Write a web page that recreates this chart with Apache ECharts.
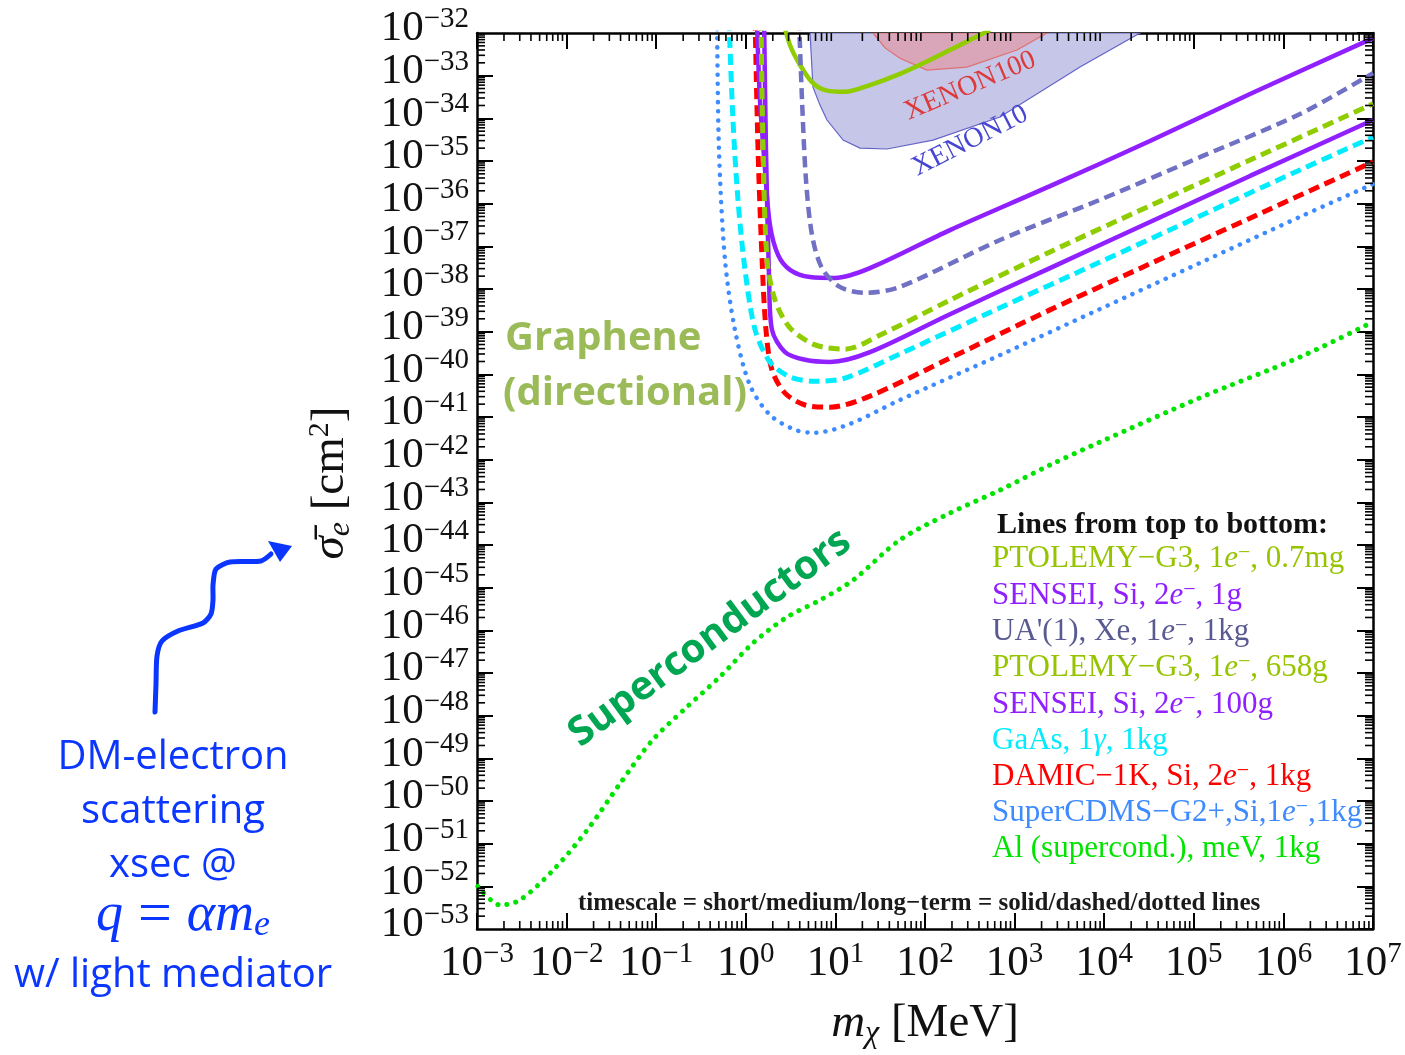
<!DOCTYPE html>
<html><head><meta charset="utf-8">
<script src="https://cdn.jsdelivr.net/npm/echarts@6/dist/echarts.min.js"></script>
<style>html,body{margin:0;padding:0;background:#fff}#c{width:1405px;height:1055px}</style>
</head><body><div id="c"></div>
<script>
// ---------- data (mass in MeV, cross-section in cm^2) ----------
const xTickLabels = ['\u22123','\u22122','\u22121','0','1','2','3','4','5','6','7'];
const yTickLabels = ['\u221253','\u221252','\u221251','\u221250','\u221249','\u221248','\u221247','\u221246','\u221245','\u221244','\u221243','\u221242','\u221241','\u221240','\u221239','\u221238','\u221237','\u221236','\u221235','\u221234','\u221233','\u221232'];
const minorMultipliers = [2, 3, 4, 5, 6, 7, 8, 9];

const ptolemyMgMass  = [2.60, 3.11, 4.03, 5.48, 7.66, 12.8, 24.3, 52.6, 114, 246, 531];
const ptolemyMgSigma = [2.0e-32, 5.25e-33, 1.78e-33, 7.08e-34, 4.57e-34, 4.17e-34, 6.03e-34, 1.10e-33, 2.34e-33, 5.25e-33, 1.17e-32];

const sensei1gMass  = [1.33, 1.44, 1.64, 1.86, 2.29, 3.11, 5.21, 9.91, 24.3, 190, 2483, 3.24e4, 4.24e5, 1e7];
const sensei1gSigma = [2.0e-32, 2.69e-34, 6.17e-36, 3.16e-37, 6.31e-38, 2.82e-38, 1.91e-38, 1.82e-38, 3.09e-38, 2.40e-37, 2.57e-36, 2.95e-35, 3.72e-34, 7.59e-33];

const uaXeMass  = [3.93, 4.24, 4.70, 5.48, 7.08, 11.2, 21.4, 52.6, 687, 8974, 1.17e5, 1.53e6, 1e7];
const uaXeSigma = [2.0e-32, 2.69e-34, 3.55e-36, 1.86e-37, 3.09e-38, 1.12e-38, 8.13e-39, 1.12e-38, 1.41e-37, 1.23e-36, 1.23e-35, 1.26e-34, 1.15e-33];

const ptolemyKgMass  = [1.48, 1.56, 1.73, 2.12, 3.11, 5.92, 12.8, 31.5, 190, 2483, 3.24e4, 4.24e5, 1e7];
const ptolemyKgSigma = [2.0e-32, 1.82e-35, 4.79e-38, 5.50e-39, 1.23e-39, 4.90e-40, 3.89e-40, 8.32e-40, 5.50e-39, 7.41e-38, 8.91e-37, 1.05e-35, 2.19e-34];

const sensei100gMass  = [1.60, 1.68, 1.82, 1.96, 2.74, 4.58, 8.71, 24.3, 190, 2483, 3.24e4, 4.24e5, 1e7];
const sensei100gSigma = [2.0e-32, 1.82e-35, 1.62e-38, 1.10e-39, 3.31e-40, 2.19e-40, 1.95e-40, 3.31e-40, 2.57e-39, 3.09e-38, 3.72e-37, 4.47e-36, 9.12e-35];

const gaasMass  = [0.650, 0.719, 0.818, 0.98, 1.27, 1.86, 3.11, 5.92, 12.8, 52.6, 687, 8974, 1.17e5, 1.53e6, 1e7];
const gaasSigma = [2.0e-32, 9.12e-35, 1.23e-36, 2.82e-38, 1.10e-39, 1.95e-40, 8.71e-41, 6.92e-41, 8.13e-41, 3.02e-40, 3.63e-39, 4.27e-38, 5.13e-37, 6.17e-36, 3.63e-35];

const damicMass  = [1.27, 1.37, 1.52, 1.68, 1.96, 2.74, 4.58, 8.71, 24.3, 190, 2483, 3.24e4, 4.24e5, 1e7];
const damicSigma = [2.0e-32, 1.82e-35, 4.79e-38, 1.10e-39, 1.26e-40, 3.63e-41, 1.91e-41, 1.70e-41, 3.09e-41, 2.40e-40, 3.24e-39, 3.89e-38, 4.57e-37, 9.55e-36];

const cdmsMass  = [0.478, 0.502, 0.586, 0.757, 1.11, 1.86, 3.54, 5.92, 14.6, 52.6, 687, 8974, 1.17e5, 1.53e6, 1e7];
const cdmsSigma = [2.0e-32, 1.82e-35, 4.79e-38, 1.10e-39, 5.62e-41, 1.12e-41, 5.01e-42, 4.27e-42, 6.92e-42, 2.51e-41, 2.82e-40, 3.39e-39, 4.07e-38, 4.90e-37, 2.88e-36];

const alMass  = [1.02e-3, 1.82e-3, 3.02e-3, 7.08e-3, 1.70e-2, 3.98e-2, 9.12e-2, 0.219, 0.513, 1.20, 2.88, 6.76, 15.8, 52.5, 191, 692, 2512, 8913, 1.17e5, 1.55e6, 1e7];
const alSigma = [1.0e-52, 3.63e-53, 4.79e-53, 2.40e-52, 2.09e-51, 2.63e-50, 2.69e-49, 1.58e-48, 8.13e-48, 5.01e-47, 2.04e-46, 5.13e-46, 1.51e-45, 1.32e-44, 5.62e-44, 1.95e-43, 7.59e-43, 2.57e-42, 2.82e-41, 2.57e-40, 1.70e-39];

const xenon10Mass  = [5.21, 5.62, 6.73, 8.05, 12.2, 18.8, 37.7, 123, 687, 5370, 2.51e4];
const xenon10Sigma = [1e-32, 5.37e-34, 2.04e-34, 9.12e-35, 3.09e-35, 2.00e-35, 1.91e-35, 3.09e-35, 1.07e-34, 1.59e-33, 1e-32];

const xenon100Mass  = [26.3, 35.8, 52.6, 105, 294, 1064, 2301];
const xenon100Sigma = [1e-32, 4.47e-33, 2.57e-33, 1.35e-33, 1.59e-33, 3.98e-33, 1e-32];

// ---------- chart ----------
// ECharts rounds log-axis tick values to 10 decimals, so the cross-section axis
// is expressed in units of 1e-53 cm^2 (labels still read 10^n cm^2).
const SIGMA_UNIT = 1e-53;
const X_MIN = 1e-3, X_MAX = 1e7, Y_MIN = 1, Y_MAX = 1e21;
const SERIF = 'Liberation Serif';
const chart = echarts.init(document.getElementById('c'), null, {renderer: 'canvas'});

function expOf(v) { return Math.round(Math.log10(v)); }
function xLabel(v) { return '{b|10}{s|' + xTickLabels[expOf(v) + 3] + '}'; }
function yLabel(v) { return '{b|10}{s|' + yTickLabels[expOf(v)] + '}'; }
function yEndLabel(v) { const e = expOf(v); return (e === 0 || e === 21) ? yLabel(v) : ''; }
const toSigmaAxis = (s) => s / SIGMA_UNIT;

const labelRich = {
  b: {fontFamily: SERIF, fontSize: 43, lineHeight: 48, color: '#111'},
  s: {fontFamily: SERIF, fontSize: 29, lineHeight: 26, verticalAlign: 'top', color: '#111'}
};

function makeAxis(kind, position, labelMode) {
  const isX = kind === 'x';
  const showLabel = labelMode !== 'none';
  const endsOnly = labelMode === 'ends';
  return {
    type: 'log', logBase: 10,
    min: isX ? X_MIN : Y_MIN, max: isX ? X_MAX : Y_MAX, interval: 1,
    position: position,
    axisLine: {show: !endsOnly, onZero: false, lineStyle: {color: '#000', width: 2.5}},
    axisTick: {show: !endsOnly, inside: true, length: 16, lineStyle: {color: '#000', width: 2}},
    minorTick: {show: false},
    splitLine: {show: false}, minorSplitLine: {show: false},
    axisLabel: {
      show: showLabel, interval: 0, hideOverlap: false,
      showMinLabel: (isX || endsOnly) ? true : false,
      showMaxLabel: (isX || endsOnly) ? true : false,
      margin: isX ? 11 : 8,
      formatter: isX ? xLabel : (endsOnly ? yEndLabel : yLabel),
      padding: isX ? [0, 0, 0, 0] : [0, 0, 8, 0],
      rich: labelRich
    }
  };
}

// minor tick positions (2..9 times each decade)
const xMinorValues = [];
for (let e = -3; e < 7; e++) minorMultipliers.forEach(m => xMinorValues.push(m * Math.pow(10, e)));
const yMinorValues = [];
for (let e = 0; e < 21; e++) minorMultipliers.forEach(m => yMinorValues.push(m * Math.pow(10, e)));

function minorTickSeries(isX) {
  return {
    type: 'custom', coordinateSystem: 'cartesian2d', z: 50, clip: false, silent: true,
    data: isX ? xMinorValues.map(v => [v, Y_MIN]) : yMinorValues.map(v => [X_MIN, v]),
    renderItem: function (params, api) {
      const L = 8;
      if (isX) {
        const b = api.coord([api.value(0), Y_MIN]);
        const t = api.coord([api.value(0), Y_MAX]);
        return {type: 'group', children: [
          {type: 'line', shape: {x1: b[0], y1: b[1], x2: b[0], y2: b[1] - L}, style: {stroke: '#000', lineWidth: 1.6}},
          {type: 'line', shape: {x1: t[0], y1: t[1], x2: t[0], y2: t[1] + L}, style: {stroke: '#000', lineWidth: 1.6}}
        ]};
      }
      const l = api.coord([X_MIN, api.value(1)]);
      const r = api.coord([X_MAX, api.value(1)]);
      return {type: 'group', children: [
        {type: 'line', shape: {x1: l[0], y1: l[1], x2: l[0] + L, y2: l[1]}, style: {stroke: '#000', lineWidth: 1.6}},
        {type: 'line', shape: {x1: r[0], y1: r[1], x2: r[0] - L, y2: r[1]}, style: {stroke: '#000', lineWidth: 1.6}}
      ]};
    }
  };
}

function lineSeries(name, mass, sigma, color, style, width, z) {
  let type = 'solid', cap = 'butt';
  if (style === 'dashed') { type = [11, 6]; }
  if (style === 'dotted') { type = [0.1, 9]; cap = 'round'; }
  return {
    name: name, type: 'line', z: z,
    data: mass.map((m, i) => [m, toSigmaAxis(sigma[i])]),
    showSymbol: false, symbol: 'none', clip: true,
    smooth: 0.3,
    lineStyle: {color: color, width: width, type: type, cap: cap},
    emphasis: {disabled: true}
  };
}

function regionSeries(name, mass, sigma, fill, stroke, z) {
  return {
    name: name, type: 'custom', coordinateSystem: 'cartesian2d', z: z, clip: true,
    data: [[mass[0], toSigmaAxis(sigma[0])]],
    renderItem: function (params, api) {
      return {
        type: 'polygon',
        shape: {points: mass.map((m, i) => api.coord([m, toSigmaAxis(sigma[i])]))},
        style: {fill: fill, stroke: stroke, lineWidth: 1.2}
      };
    }
  };
}

const C = {
  ptolemy: '#8fcc00', sensei: '#9020ff', ua: '#7070c4', uaText: '#5a5a92',
  gaas: '#00ecff', damic: '#ff0000', cdms: '#3d8bff', al: '#00e400'
};

const legendRich = (color) => ({
  t: {fontFamily: SERIF, fontSize: 31, lineHeight: 34, fill: color},
  i: {fontFamily: SERIF, fontSize: 31, lineHeight: 34, fontStyle: 'italic', fill: color},
  sp: {fontFamily: SERIF, fontSize: 22, lineHeight: 22, verticalAlign: 'top', fill: color}
});
function legendEntry(y, text, color) {
  return {type: 'text', x: 992, y: y, z: 100, silent: true,
    style: {text: text, rich: legendRich(color), fill: color, align: 'left', verticalAlign: 'middle'}};
}

const option = {
  animation: false,
  backgroundColor: '#fff',
  grid: {left: 477, top: 33, width: 896, height: 896, containLabel: false, outerBoundsMode: 'none'},
  xAxis: [makeAxis('x', 'bottom', 'all'), makeAxis('x', 'top', 'none')],
  yAxis: [makeAxis('y', 'left', 'all'), makeAxis('y', 'right', 'none'), makeAxis('y', 'left', 'ends')],
  series: [
    regionSeries('XENON10', xenon10Mass, xenon10Sigma, '#c6c6e8', '#6464c8', 1),
    regionSeries('XENON100', xenon100Mass, xenon100Sigma, '#d9a5b8', '#e07070', 2),
    lineSeries('PTOLEMY-G3, 1e-, 0.7mg', ptolemyMgMass, ptolemyMgSigma, C.ptolemy, 'solid', 4.5, 10),
    lineSeries('SENSEI, Si, 2e-, 1g', sensei1gMass, sensei1gSigma, C.sensei, 'solid', 4.5, 10),
    lineSeries("UA'(1), Xe, 1e-, 1kg", uaXeMass, uaXeSigma, C.ua, 'dashed', 4.5, 10),
    lineSeries('PTOLEMY-G3, 1e-, 658g', ptolemyKgMass, ptolemyKgSigma, C.ptolemy, 'dashed', 5, 11),
    lineSeries('SENSEI, Si, 2e-, 100g', sensei100gMass, sensei100gSigma, C.sensei, 'solid', 4.5, 10),
    lineSeries('GaAs, 1γ, 1kg', gaasMass, gaasSigma, C.gaas, 'dashed', 5, 10),
    lineSeries('DAMIC-1K, Si, 2e-, 1kg', damicMass, damicSigma, C.damic, 'dashed', 5, 9),
    lineSeries('SuperCDMS-G2+, Si, 1e-, 1kg', cdmsMass, cdmsSigma, C.cdms, 'dotted', 4.5, 10),
    lineSeries('Al (supercond.), meV, 1kg', alMass, alSigma, C.al, 'dotted', 5, 10),
    minorTickSeries(true),
    minorTickSeries(false)
  ],
  graphic: [
    {type: 'text', x: 970, y: 86, rotation: 0.40, z: 100, silent: true,
      style: {text: 'XENON100', font: '28px "Liberation Serif"', fill: '#dd3a3a', align: 'center', verticalAlign: 'middle'}},
    {type: 'text', x: 970, y: 141, rotation: 0.47, z: 100, silent: true,
      style: {text: 'XENON10', font: '28px "Liberation Serif"', fill: '#4646d0', align: 'center', verticalAlign: 'middle'}},
    {type: 'text', x: 505, y: 339, z: 100, silent: true,
      style: {text: 'Graphene', font: 'bold 40px "Open Sans"', fill: '#9bbb59', align: 'left', verticalAlign: 'middle'}},
    {type: 'text', x: 503, y: 394, z: 100, silent: true,
      style: {text: '(directional)', font: 'bold 40px "Open Sans"', fill: '#9bbb59', align: 'left', verticalAlign: 'middle'}},
    {type: 'text', x: 710, y: 638, rotation: 0.635, z: 100, silent: true,
      style: {text: 'Superconductors', font: 'bold 40px "Open Sans"', fill: '#00a651', align: 'center', verticalAlign: 'middle'}},
    {type: 'text', x: 997, y: 525, z: 100, silent: true,
      style: {text: 'Lines from top to bottom:', font: 'bold 30px "Liberation Serif"', fill: '#111', align: 'left', verticalAlign: 'middle'}},
    legendEntry(559, '{t|PTOLEMY\u2212G3, 1}{i|e}{sp|\u2212}{t|, 0.7mg}', '#96c400'),
    legendEntry(596, '{t|SENSEI, Si, 2}{i|e}{sp|\u2212}{t|, 1g}', C.sensei),
    legendEntry(632, "{t|UA'(1), Xe, 1}{i|e}{sp|\u2212}{t|, 1kg}", C.uaText),
    legendEntry(668, '{t|PTOLEMY\u2212G3, 1}{i|e}{sp|\u2212}{t|, 658g}', '#96c400'),
    legendEntry(705, '{t|SENSEI, Si, 2}{i|e}{sp|\u2212}{t|, 100g}', C.sensei),
    legendEntry(741, '{t|GaAs, 1}{i|\u03b3}{t|, 1kg}', C.gaas),
    legendEntry(777, '{t|DAMIC\u22121K, Si, 2}{i|e}{sp|\u2212}{t|, 1kg}', C.damic),
    legendEntry(813, '{t|SuperCDMS\u2212G2+,Si,1}{i|e}{sp|\u2212}{t|,1kg}', C.cdms),
    legendEntry(849, '{t|Al (supercond.), meV, 1kg}', C.al),
    {type: 'text', x: 578, y: 904, z: 100, silent: true,
      style: {text: 'timescale = short/medium/long\u2212term = solid/dashed/dotted lines', font: 'bold 25px "Liberation Serif"', fill: '#1a1a1a', align: 'left', verticalAlign: 'middle'}},
    {type: 'text', x: 925, y: 1024, z: 100, silent: true,
      style: {text: '{m|m}{c|\u03c7}{n| [MeV]}', align: 'center', verticalAlign: 'middle',
        rich: {m: {fontFamily: SERIF, fontSize: 47, fontStyle: 'italic', lineHeight: 52, fill: '#111'},
               c: {fontFamily: SERIF, fontSize: 32, fontStyle: 'italic', lineHeight: 30, verticalAlign: 'bottom', fill: '#111'},
               n: {fontFamily: SERIF, fontSize: 47, lineHeight: 52, fill: '#111'}}}},
    {type: 'text', x: 331, y: 483, rotation: Math.PI / 2, z: 100, silent: true,
      style: {text: '{m|\u03c3\u0304}{c|e}{n| [cm}{p|2}{n|]}', align: 'center', verticalAlign: 'middle',
        rich: {m: {fontFamily: SERIF, fontSize: 47, fontStyle: 'italic', lineHeight: 52, fill: '#111'},
               c: {fontFamily: SERIF, fontSize: 32, fontStyle: 'italic', lineHeight: 30, verticalAlign: 'bottom', fill: '#111'},
               n: {fontFamily: SERIF, fontSize: 47, lineHeight: 52, fill: '#111'},
               p: {fontFamily: SERIF, fontSize: 30, lineHeight: 28, verticalAlign: 'top', fill: '#111'}}}},
    {type: 'polyline', z: 100, silent: true,
      shape: {points: [[155,712],[156,684],[157,656],[162,641],[178,631],[203,623],[211,614],[213,600],[213,585],[216,569],[230,562],[261,561],[271,554]], smooth: 0.25},
      style: {stroke: '#0a36ff', lineWidth: 5, fill: null, lineCap: 'round', lineJoin: 'round'}},
    {type: 'polygon', z: 100, silent: true,
      shape: {points: [[292, 546], [280, 562], [268, 541]]}, style: {fill: '#0a36ff'}},
    {type: 'text', x: 173, y: 758, z: 100, silent: true,
      style: {text: 'DM-electron', font: '40px "Open Sans"', fill: '#0a36ff', align: 'center', verticalAlign: 'middle'}},
    {type: 'text', x: 173, y: 812, z: 100, silent: true,
      style: {text: 'scattering', font: '40px "Open Sans"', fill: '#0a36ff', align: 'center', verticalAlign: 'middle'}},
    {type: 'text', x: 173, y: 866, z: 100, silent: true,
      style: {text: 'xsec @', font: '40px "Open Sans"', fill: '#0a36ff', align: 'center', verticalAlign: 'middle'}},
    {type: 'text', x: 183, y: 916, z: 100, silent: true,
      style: {text: '{i|q}{n| = }{i|\u03b1m}{s|e}', align: 'center', verticalAlign: 'middle',
        rich: {i: {fontFamily: SERIF, fontSize: 54, fontStyle: 'italic', lineHeight: 56, fill: '#0a36ff'},
               n: {fontFamily: SERIF, fontSize: 60, lineHeight: 56, fill: '#0a36ff'},
               s: {fontFamily: SERIF, fontSize: 36, fontStyle: 'italic', lineHeight: 32, verticalAlign: 'bottom', fill: '#0a36ff'}}}},
    {type: 'text', x: 173, y: 976, z: 100, silent: true,
      style: {text: 'w/ light mediator', font: '40px "Open Sans"', fill: '#0a36ff', align: 'center', verticalAlign: 'middle'}}
  ]
};
chart.setOption(option);
</script></body></html>
